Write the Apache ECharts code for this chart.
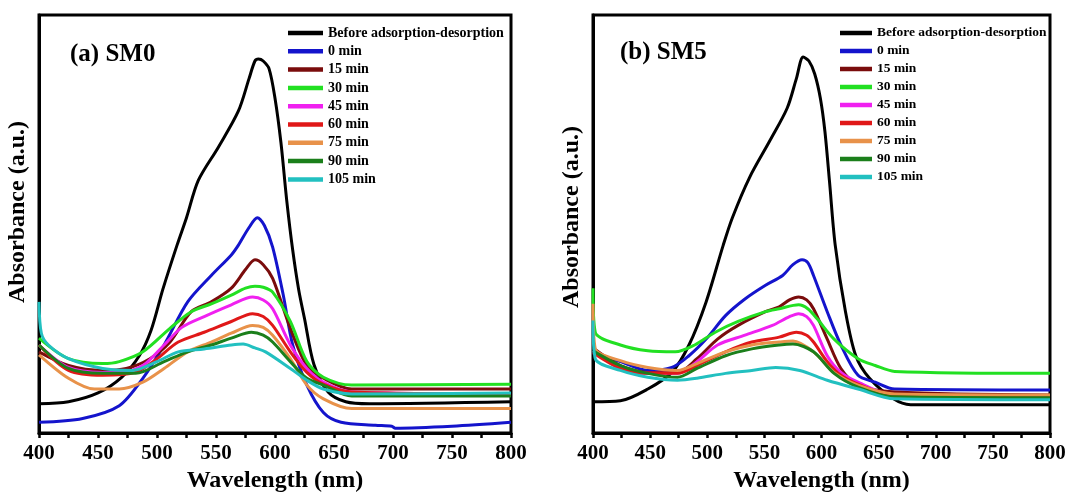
<!DOCTYPE html>
<html>
<head>
<meta charset="utf-8">
<title>Absorbance spectra SM0 / SM5</title>
<script src="https://cdn.jsdelivr.net/npm/echarts@6.0.0/dist/echarts.min.js"></script>
<style>
  html, body { margin: 0; padding: 0; background: #fff; }
  #main { width: 1070px; height: 498px; }
</style>
</head>
<body>
<div id="main"></div>
<script>
// wavelength ticks (nm)
var wlTicks = [400, 450, 500, 550, 600, 650, 700, 750, 800];
var names = ['Before adsorption-desorption', '0 min', '15 min', '30 min', '45 min', '60 min', '75 min', '90 min', '105 min'];
var colors = ['#000000', '#1414cc', '#7a0c0c', '#22e022', '#f020f0', '#e01818', '#e8924a', '#1b7f1b', '#22c0c0'];

// (a) SM0 : [wavelength, absorbance a.u.]
var aBefore = [[400,0.30],[425,0.32],[450,0.41],[470,0.57],[485,0.79],[495,1.05],[505,1.47],[517,1.92],[525,2.20],[535,2.58],[552,2.92],[569,3.29],[578,3.62],[583,3.80],[586,3.82],[590,3.80],[595,3.72],[600,3.42],[605,2.97],[610,2.37],[615,1.87],[620,1.47],[625,1.17],[633,0.70],[645,0.42],[660,0.32],[680,0.30],[800,0.32]];
var a0 = [[400,0.11],[437,0.15],[468,0.28],[488,0.56],[506,0.90],[526,1.34],[546,1.61],[563,1.82],[569,1.92],[578,2.10],[585,2.20],[591,2.12],[598,1.90],[607,1.41],[615,0.90],[627,0.49],[641,0.21],[656,0.11],[685,0.08],[699,0.07],[702,0.05],[750,0.07],[800,0.11]];
var a15 = [[400,0.83],[425,0.69],[454,0.64],[474,0.66],[494,0.76],[511,0.93],[529,1.24],[546,1.34],[563,1.48],[575,1.67],[583,1.77],[590,1.72],[598,1.58],[613,1.07],[627,0.69],[641,0.56],[665,0.45],[800,0.45]];
var a30 = [[400,0.97],[425,0.76],[454,0.71],[468,0.73],[488,0.83],[511,1.07],[529,1.24],[546,1.32],[563,1.41],[575,1.48],[583,1.50],[590,1.49],[598,1.44],[613,1.14],[627,0.73],[641,0.57],[665,0.49],[800,0.50]];
var a45 = [[400,0.90],[425,0.67],[454,0.62],[468,0.62],[488,0.69],[506,0.90],[521,1.08],[540,1.19],[563,1.31],[581,1.39],[590,1.36],[598,1.27],[613,0.90],[627,0.66],[641,0.52],[665,0.42],[800,0.40]];
var a60 = [[400,0.90],[425,0.64],[454,0.59],[482,0.62],[500,0.76],[518,0.93],[540,1.03],[563,1.14],[581,1.22],[590,1.19],[598,1.10],[613,0.83],[627,0.62],[641,0.50],[665,0.42],[800,0.40]];
var a75 = [[400,0.80],[425,0.56],[447,0.45],[468,0.45],[488,0.52],[506,0.66],[526,0.83],[546,0.93],[563,1.02],[581,1.10],[590,1.08],[598,1.00],[613,0.76],[627,0.49],[641,0.35],[665,0.25],[800,0.25]];
var a90 = [[400,0.90],[425,0.66],[454,0.61],[482,0.61],[506,0.73],[526,0.83],[546,0.90],[563,0.97],[580,1.03],[590,1.00],[598,0.93],[613,0.73],[627,0.56],[641,0.49],[665,0.38],[800,0.38]];
var a105 = [[400,1.34],[402,1.02],[408,0.90],[425,0.76],[454,0.66],[479,0.64],[500,0.73],[518,0.83],[540,0.86],[563,0.90],[573,0.91],[583,0.87],[592,0.83],[613,0.66],[627,0.54],[641,0.45],[665,0.40],[800,0.41]];

// (b) SM5
var bBefore = [[400,0.32],[424,0.33],[448,0.45],[469,0.62],[484,0.90],[499,1.34],[514,1.92],[522,2.20],[537,2.61],[555,2.99],[570,3.32],[578,3.62],[584,3.84],[589,3.80],[594,3.67],[599,3.42],[603,3.08],[607,2.57],[612,1.92],[621,1.24],[630,0.79],[642,0.56],[663,0.35],[678,0.29],[800,0.29]];
var b0 = [[400,0.82],[424,0.73],[448,0.64],[469,0.67],[484,0.79],[499,0.96],[516,1.20],[533,1.37],[551,1.51],[566,1.61],[575,1.72],[583,1.77],[588,1.74],[593,1.61],[605,1.24],[617,0.90],[632,0.59],[647,0.52],[664,0.45],[800,0.44]];
var b15 = [[400,0.87],[424,0.69],[448,0.62],[474,0.62],[491,0.76],[509,0.96],[527,1.10],[551,1.24],[563,1.29],[572,1.36],[580,1.39],[587,1.36],[593,1.27],[605,0.96],[617,0.66],[632,0.49],[664,0.42],[800,0.39]];
var b30 = [[400,1.48],[402,1.03],[424,0.90],[448,0.84],[472,0.83],[489,0.90],[507,1.03],[527,1.14],[551,1.24],[563,1.27],[580,1.31],[588,1.27],[596,1.17],[611,0.96],[632,0.76],[647,0.69],[664,0.63],[800,0.61]];
var b45 = [[400,0.84],[424,0.66],[448,0.61],[474,0.61],[491,0.73],[509,0.90],[533,1.00],[557,1.10],[572,1.19],[580,1.22],[587,1.19],[593,1.10],[605,0.79],[617,0.62],[632,0.52],[664,0.38],[800,0.37]];
var b60 = [[400,0.82],[424,0.66],[448,0.61],[474,0.61],[491,0.69],[516,0.83],[539,0.93],[563,0.98],[578,1.03],[587,1.00],[593,0.93],[605,0.73],[617,0.59],[632,0.50],[664,0.38],[800,0.37]];
var b75 = [[400,1.32],[402,0.86],[424,0.74],[448,0.67],[474,0.64],[491,0.71],[516,0.83],[539,0.90],[563,0.93],[575,0.94],[593,0.83],[611,0.62],[632,0.49],[664,0.40],[800,0.39]];
var b90 = [[400,0.84],[424,0.69],[448,0.61],[474,0.57],[491,0.66],[516,0.79],[539,0.86],[563,0.90],[575,0.91],[593,0.83],[611,0.61],[632,0.47],[664,0.37],[800,0.36]];
var b105 = [[400,1.15],[402,0.76],[424,0.64],[448,0.57],[474,0.54],[491,0.56],[516,0.61],[539,0.64],[560,0.67],[581,0.64],[605,0.54],[632,0.45],[664,0.35],[800,0.34]];

var panelA = [aBefore, a0, a15, a30, a45, a60, a75, a90, a105];
var panelB = [bBefore, b0, b15, b30, b45, b60, b75, b90, b105];

var serif = 'Liberation Serif';

function xAxisFor(gi) {
  return {
    gridIndex: gi, type: 'value', min: 400, max: 800, interval: 50,
    axisLine: { show: true, lineStyle: { color: '#000', width: 3 } },
    axisTick: { show: true, inside: false, length: 5, lineStyle: { color: '#000', width: 2.5 } },
    minorTick: { show: true, splitNumber: 2, length: 5, lineStyle: { color: '#000', width: 2.5 } },
    axisLabel: { color: '#000', fontFamily: serif, fontWeight: 'bold', fontSize: 21, margin: 10 },
    splitLine: { show: false },
    name: 'Wavelength (nm)', nameLocation: 'middle', nameGap: 34,
    nameTextStyle: { color: '#000', fontFamily: serif, fontWeight: 'bold', fontSize: 24 }
  };
}
function yAxisFor(gi) {
  return {
    gridIndex: gi, type: 'value', min: 0, max: 4.27,
    axisLine: { show: true, lineStyle: { color: '#000', width: 3 } },
    axisTick: { show: false }, axisLabel: { show: false }, splitLine: { show: false }
  };
}
// legend icon: a plain thick stroke (kept to its aspect inside the item box)
function legendFor(left, size, gap, width) {
  return {
    orient: 'vertical', left: left, top: 26, padding: 0,
    itemWidth: width, itemHeight: size, itemGap: gap, selectedMode: false,
    icon: 'path://M0,0H' + width + 'V4.5H0Z', symbolKeepAspect: true,
    data: names,
    textStyle: { color: '#000', fontFamily: serif, fontWeight: 'bold', fontSize: size }
  };
}

var series = [];
[panelA, panelB].forEach(function (panel, gi) {
  panel.forEach(function (d, i) {
    series.push({
      name: names[i], type: 'line', xAxisIndex: gi, yAxisIndex: gi,
      data: d, smooth: 0.3, symbol: 'none',
      lineStyle: { color: colors[i], width: 3 }, itemStyle: { color: colors[i] },
      z: 2 + i
    });
  });
});

var chart = echarts.init(document.getElementById('main'), null, { renderer: 'canvas' });
chart.setOption({
  backgroundColor: '#fff',
  animation: false,
  grid: [
    { left: 39, top: 15, width: 472, height: 427, show: true, borderColor: '#000', borderWidth: 3 },
    { left: 593, top: 15, width: 457, height: 427, show: true, borderColor: '#000', borderWidth: 3 }
  ],
  xAxis: [xAxisFor(0), xAxisFor(1)],
  yAxis: [yAxisFor(0), yAxisFor(1)],
  legend: [legendFor(288, 14, 4.3, 35), legendFor(840, 13.5, 4, 32)],
  graphic: [
    { type: 'text', left: 70, top: 42, style: { text: '(a) SM0', fill: '#000', font: 'bold 25px "Liberation Serif"' } },
    { type: 'text', left: 620, top: 40, style: { text: '(b) SM5', fill: '#000', font: 'bold 25px "Liberation Serif"' } },
    { type: 'text', x: 18, y: 212, rotation: Math.PI / 2,
      style: { text: 'Absorbance (a.u.)', fill: '#000', font: 'bold 24px "Liberation Serif"', align: 'center', verticalAlign: 'middle' } },
    { type: 'text', x: 572, y: 217, rotation: Math.PI / 2,
      style: { text: 'Absorbance (a.u.)', fill: '#000', font: 'bold 24px "Liberation Serif"', align: 'center', verticalAlign: 'middle' } }
  ],
  series: series
});
</script>
</body>
</html>
